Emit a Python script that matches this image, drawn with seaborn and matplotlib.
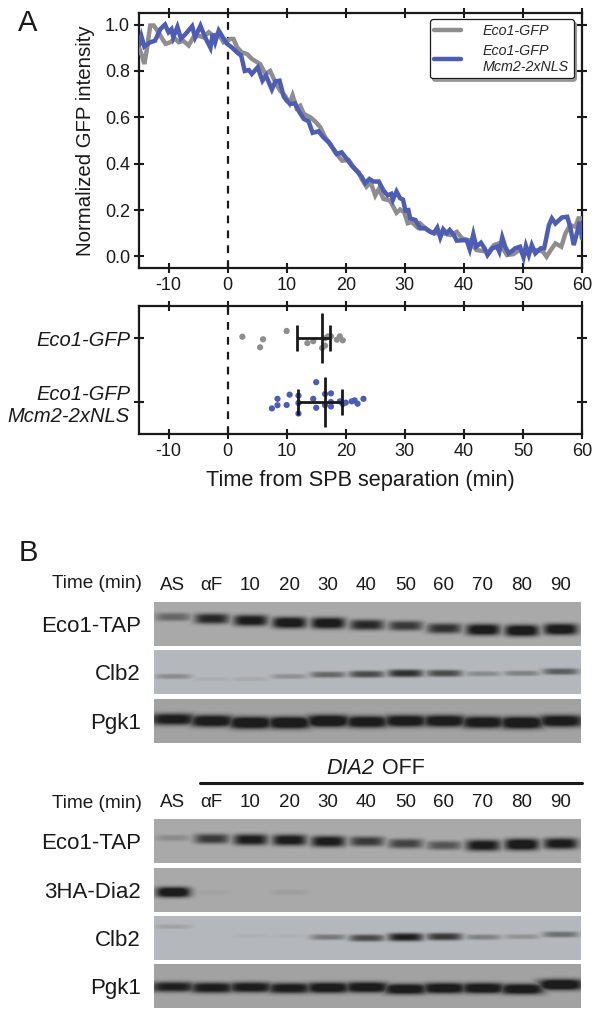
import numpy as np, pandas as pd
import matplotlib
matplotlib.use("Agg")
import matplotlib.pyplot as plt
from matplotlib.colors import LinearSegmentedColormap
import seaborn as sns

sns.set_theme(style="white")
plt.rcParams['font.family'] = ['Liberation Sans', 'DejaVu Sans']

# ---------- data ----------
grey_t = [-15,-14.5,-14.1,-13.7,-13.1,-12.5,-11.7,-11.1,-10.5,-9.7,-8.9,-8.3,-7.5,-6.6,-5.8,-4.9,-4.1,-3.2,-2.4,-1.5,-.7,.5,1,1.6,2.4,3.3,4.1,5.5,6.4,7.2,8.1,8.9,9.8,10.5,11,11.7,12.3,12.9,14,14.8,15.7,16.5,17.4,18.2,19.4,20.5,21.3,22.2,22.7,23.5,24.2,25,25.6,26.4,27.5,28.6,29.2,29.9,30.5,31.2,32.1,32.6,33.8,34.9,36.6,37.7,38.8,39.7,40.8,41.4,42.2,43.1,44.2,45.1,45.9,46.6,47.3,48.4,49.5,50.1,51.3,52.7,53.4,54,54.7,55.5,56.5,57.2,58,58.9,59.4,60]
grey_v = [.9,.866,.83,.888,.996,.996,.967,.94,.917,.924,.94,.924,.93,.91,.945,.952,.945,.967,.952,.96,.924,.938,.938,.902,.88,.873,.852,.83,.787,.80,.75,.715,.69,.66,.695,.64,.65,.615,.6,.583,.557,.514,.485,.449,.413,.416,.385,.363,.334,.301,.32,.263,.291,.248,.241,.188,.202,.19,.143,.148,.126,.142,.114,.1,.1,.092,.106,.078,.07,.049,.027,.024,.02,.049,.056,.035,.006,.01,.03,.006,.027,.027,.02,-.001,.027,.056,.042,.1,.135,.128,.164,.164]
blue_t = [-15,-14.6,-14.1,-13.1,-12.3,-11.4,-10.6,-10,-9.5,-9.2,-8.5,-7.9,-7.2,-6,-5.5,-4.6,-3.8,-2.9,-2.5,-2.1,-1.5,-.8,-.1,.7,1.6,2.3,2.9,3.6,4.1,5.1,5.9,6.5,7.5,8.1,8.8,9.5,10,10.6,11.4,12,12.9,13.7,14.4,15.4,16.2,17.1,17.9,18.5,19.3,20.2,21,21.9,22.7,23.3,24,24.7,25.6,26.4,27.1,27.7,28,28.6,29.2,29.7,30.1,30.6,30.9,31.8,32.6,33.5,34.3,34.9,35.5,36,36.5,37.1,37.6,38.3,38.8,40,40.5,41,41.6,42.1,42.9,43.5,44,44.8,45.6,46,46.5,47,47.6,48.7,49.5,50.1,50.5,51,51.5,52.1,53,53.6,54.4,54.9,55.5,56.6,57.5,58,58.6,59.2,59.6,60]
blue_v = [.91,.95,.905,.924,.93,.98,1.0,.967,.98,.945,.99,.94,.957,.993,.945,.995,.945,.9,.96,.924,.974,.945,.917,.902,.88,.866,.80,.804,.787,.816,.758,.78,.72,.755,.758,.69,.672,.658,.66,.629,.593,.583,.533,.54,.514,.492,.464,.442,.449,.42,.392,.367,.344,.316,.334,.323,.323,.284,.263,.27,.245,.28,.251,.245,.198,.2,.164,.157,.121,.121,.106,.1,.124,.082,.117,.1,.114,.092,.068,.07,.068,.03,.096,.042,.059,.035,.006,.035,.042,.02,.082,.042,.013,.035,.042,-.004,.045,.006,.049,.013,.035,.035,.135,.164,.142,.168,.171,.128,.049,.106,.15,.078]

strains = ["Eco1-GFP", "Eco1-GFP\nMcm2-2xNLS"]
grey_pts_t = [2.5,6,5.5,10,13.5,14.5,16,16.5,16.5,17,17.5,18.5,19,19.5]
grey_pts_y = [-.02,.02,.146,-.11,.08,.05,.156,.12,.005,-.026,-.026,.026,-.026,.036]
blue_pts_t = [15,10.5,8.45,12,14.5,16.5,17.5,12,8.45,7.5,10,15,16.5,17.5,17.5,19,19.5,20,21,21.5,22,23,12]
blue_pts_y = [-.31,-.115,-.05,-.10,-.05,-.125,-.135,.015,.05,.10,.047,.09,.05,.07,0,-.01,.03,.01,-.01,-.026,.026,-.05,.18]
means = [16.0, 16.5]
low = [11.7, 12.0]
high = [17.3, 19.3]

lanes = ["AS", "αF", "10", "20", "30", "40", "50", "60", "70", "80", "90"]
# band strength and vertical position (fraction of blot height) per lane
eco_top   = [.45,.8,.9,.95,.95,.8,.7,.75,.95,.98,.95]
eco_top_y = [.34,.38,.42,.47,.48,.52,.54,.6,.63,.65,.62]
clb_top   = [.25,.05,.08,.22,.45,.6,.75,.6,.25,.3,.5]
clb_top_y = [.6,.66,.66,.6,.56,.55,.53,.53,.54,.53,.49]
pgk_top   = [.9,.95,1,1,1,.95,.95,.95,.95,1,.95]
pgk_top_y = [.46,.5,.54,.54,.5,.52,.5,.5,.53,.54,.5]
eco_low   = [.2,.7,.88,.9,.9,.7,.65,.55,.9,.98,.9]
eco_low_y = [.43,.45,.47,.48,.51,.51,.56,.6,.6,.58,.56]
dia_low   = [1,.05,0,.08,0,0,0,0,0,0,0]
dia_low_y = [.55,.55,.55,.55,.55,.55,.55,.55,.55,.55,.55]
clb_low   = [.12,0,.03,.03,.35,.6,.85,.7,.3,.2,.4]
clb_low_y = [.24,.45,.45,.45,.48,.5,.48,.47,.48,.47,.42]
pgk_low   = [.85,.9,.9,.9,.95,.95,.95,.95,.95,.95,1]
pgk_low_y = [.52,.54,.53,.55,.54,.53,.57,.55,.55,.57,.47]

BG_GREY, BG_COOL, BG_PGK = "#a9a9a9", "#b4b7bb", "#a2a2a2"
GREY, BLUE = "#8e8e8e", "#4d5cb4"
INK = "#1a1a1a"

W, H = 601, 1018
fig = plt.figure(figsize=(W/100, H/100), dpi=100)
def pxax(l, t, r, b):
    return fig.add_axes([l/W, 1-b/H, (r-l)/W, (b-t)/H])

def style(ax):
    for s in ax.spines.values():
        s.set_visible(True); s.set_linewidth(1.6); s.set_color(INK)
    ax.tick_params(axis="both", which="major", direction="inout", length=7, width=1.5,
                   top=True, right=True, bottom=True, left=True, color=INK,
                   labelsize=13, labelcolor=INK, pad=3)
    ax.set_xlim(-15, 60)
    ax.set_xticks(range(-10, 61, 10))
    ax.axvline(0, color=INK, lw=1.6, dashes=(3.5, 3.2), zorder=1)

# ---------- panel A, traces ----------
ax1 = pxax(139, 13, 582, 268)
trace = pd.concat([
    pd.DataFrame({"t": grey_t, "v": grey_v, "s": "Eco1-GFP"}),
    pd.DataFrame({"t": blue_t, "v": blue_v, "s": "Eco1-GFP\nMcm2-2xNLS"})])
sns.lineplot(data=trace, x="t", y="v", hue="s", palette=[GREY, BLUE], estimator=None,
             sort=False, lw=3.2, ax=ax1, solid_joinstyle="miter", zorder=3)
style(ax1)
ax1.set_ylim(-.05, 1.05)
ax1.set_yticks(np.arange(0, 1.01, .2))
ax1.set_xlabel(""); ax1.set_ylabel("Normalized GFP intensity", fontsize=14.7, color=INK, labelpad=7)
leg = ax1.legend(loc="upper right", bbox_to_anchor=(.981, .976), fancybox=True, shadow=True,
                 framealpha=1, edgecolor=INK, borderpad=.32, labelspacing=.42,
                 handlelength=1.85, handletextpad=1.55, borderaxespad=0, prop={"style": "italic", "size": 10.3})
leg.get_frame().set_linewidth(.9)
for line in leg.get_lines():
    line.set_linewidth(3.2)

# ---------- panel A, single cells ----------
ax2 = pxax(139, 306, 582, 434)
pts = pd.concat([
    pd.DataFrame({"t": grey_pts_t, "y": np.array(grey_pts_y) + 0, "s": "g"}),
    pd.DataFrame({"t": blue_pts_t, "y": np.array(blue_pts_y) + 1, "s": "b"})])
sns.scatterplot(data=pts, x="t", y="y", hue="s", palette=[GREY, BLUE], s=20, linewidth=0,
                legend=False, ax=ax2, zorder=2)
for i in range(2):
    ax2.vlines(means[i], i-.39, i+.39, color=INK, lw=2, zorder=4)
    ax2.hlines(i, low[i], high[i], color=INK, lw=2, zorder=4)
    ax2.vlines([low[i], high[i]], i-.2, i+.2, color=INK, lw=2, zorder=4)
style(ax2)
ax2.set_ylim(1.5, -.5)
ax2.set_yticks([0, 1])
ax2.set_yticklabels(strains, style="italic", fontsize=14.5, ha="right", multialignment="right")
ax2.tick_params(axis="y", pad=3)
ax2.set_xlabel("Time from SPB separation (min)", fontsize=15.7, color=INK, labelpad=7)
ax2.set_ylabel("")
ax1.set_xticklabels([str(v) for v in range(-10, 61, 10)])
ax2.set_xticklabels([str(v) for v in range(-10, 61, 10)])

# ---------- panel B, blots ----------
def blot(top, bottom, strength, ypos, bg, label, band_w=18, thick=(2.6, 3.6), header=False):
    ax = pxax(153.6, top, 581.5, bottom)
    h, w = int(round(bottom-top)), 428
    xx, yy = np.meshgrid(np.arange(w)+.5, np.arange(h)+.5)
    field = np.zeros((h, w))
    for i, (a, fy) in enumerate(zip(strength, ypos)):
        cx = w * (.045 + i * .0905)
        sy = thick[0] + thick[1] * a
        band = a * np.exp(-((xx-cx)/band_w)**4) * np.exp(-np.abs((yy-fy*h)/sy)**3)
        field = np.maximum(field, band)
    cmap = LinearSegmentedColormap.from_list("b", [bg, "#6a6a6a", "#1c1c1c"])
    sns.heatmap(field, ax=ax, cmap=cmap, vmin=0, vmax=.85, cbar=False,
                xticklabels=False, yticklabels=False, rasterized=True)
    ax.set_yticks([h/2]); ax.set_yticklabels([label], fontsize=16, rotation=0, color=INK)
    ax.tick_params(axis="y", length=0, pad=9)
    if header:
        ax.set_xticks([w*(.045+i*.0905) for i in range(11)])
        ax.set_xticklabels(lanes, rotation=0, fontsize=13.5, color=INK)
        ax.tick_params(axis="x", length=0, top=False, labeltop=True, bottom=False, labelbottom=False, pad=6)
    return ax

blot(602, 646, eco_top, eco_top_y, BG_GREY, "Eco1-TAP", header=True)
blot(650, 694, clb_top, clb_top_y, BG_COOL, "Clb2", thick=(2, 2.5))
blot(699, 743, pgk_top, pgk_top_y, BG_PGK, "Pgk1", band_w=24, thick=(3.2, 3.5))
blot(819, 863, eco_low, eco_low_y, BG_GREY, "Eco1-TAP", header=True)
blot(868, 912, dia_low, dia_low_y, BG_GREY, "3HA-Dia2", thick=(2.5, 3))
blot(916, 960, clb_low, clb_low_y, BG_COOL, "Clb2", thick=(2, 2.5))
blot(964, 1008, pgk_low, pgk_low_y, BG_PGK, "Pgk1", band_w=24, thick=(3, 3))

kw = dict(transform=fig.transFigure, color=INK)
for y in (584, 804):
    fig.text(142/W, 1-y/H, "Time (min)", ha="right", va="center", fontsize=13.7, **kw)
fig.text(28/W, 1-23/H, "A", ha="center", va="center", fontsize=21, **kw)
fig.text(28/W, 1-553/H, "B", ha="center", va="center", fontsize=21, **kw)
fig.add_artist(plt.Line2D([199.5/W, 581.5/W], [1-783/H]*2, color=INK, lw=2.2))
fig.text(350/W, 1-769/H, "DIA2", style="italic", ha="center", va="center", fontsize=15.5, **kw)
fig.text(403/W, 1-769/H, "OFF", ha="center", va="center", fontsize=15.5, **kw)

fig.savefig("out.png", dpi=100, facecolor="white")
